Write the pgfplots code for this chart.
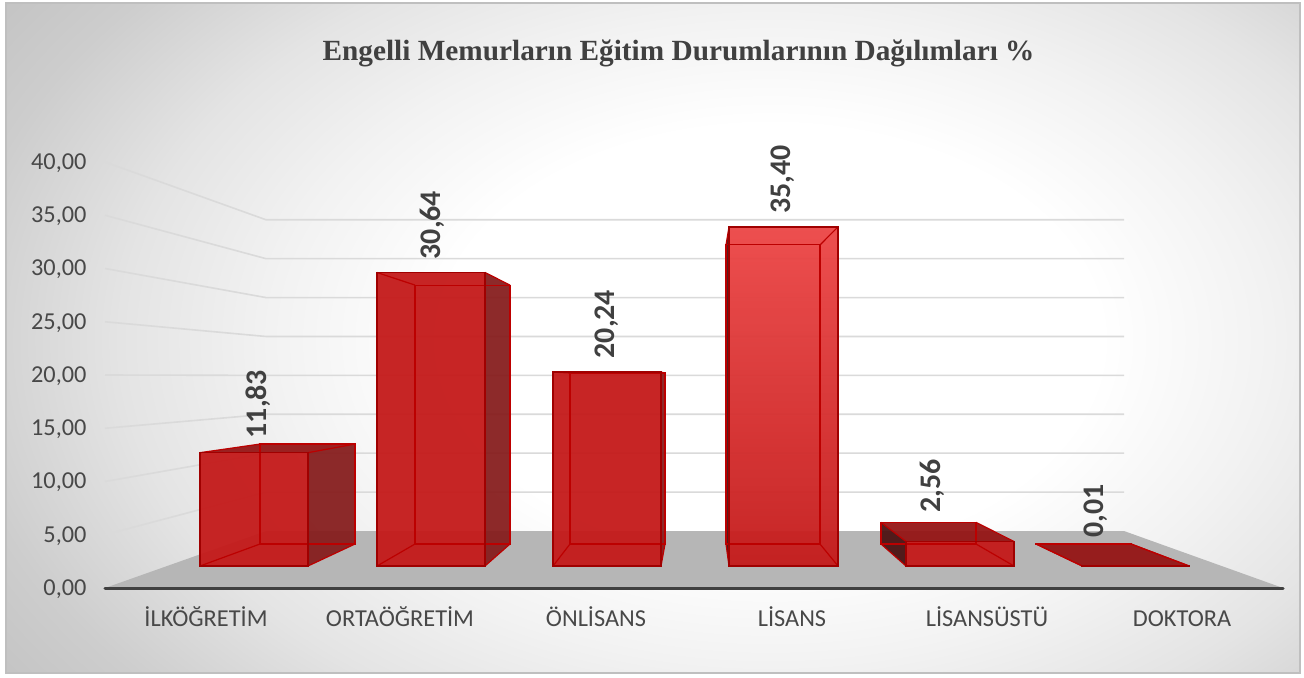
\documentclass[border=0pt]{standalone}
\usepackage{fontspec}
\usepackage{pgfplots}
\pgfplotsset{compat=1.18}
\setmainfont{Carlito}
\newfontfamily\titlefont{Liberation Serif}
\definecolor{txt}{HTML}{404040}
\definecolor{ticktxt}{HTML}{484848}
\definecolor{gridc}{HTML}{DADADA}
\definecolor{floorc}{HTML}{B6B6B6}
\definecolor{frontc}{HTML}{C41A1A}
\definecolor{frontl}{HTML}{EC4646}
\definecolor{edgec}{HTML}{BC0000}
\definecolor{edgeo}{HTML}{A00000}
\definecolor{sidec}{HTML}{851A1A}
\definecolor{topc}{HTML}{941212}
\definecolor{leftc}{HTML}{4A1010}
\definecolor{bga}{HTML}{FFFFFF}
\definecolor{bgb}{HTML}{F2F2F2}
\definecolor{bgc}{HTML}{E4E4E4}
\definecolor{bgd}{HTML}{CDCDCD}
\definecolor{bge}{HTML}{C2C2C2}
\definecolor{bgf}{HTML}{B9B9B9}
\pgfdeclareradialshading{bgshade}{\pgfpointorigin}{color(0bp)=(bga); color(8.25bp)=(bga); color(12.5bp)=(bgb); color(16.25bp)=(bgc); color(20.5bp)=(bgd); color(23.75bp)=(bge); color(27bp)=(bgf); color(50bp)=(bgf)}
% xfl xfr xbl xbr value frontstyle topcolor leftcolor rightcolor
\newcommand\drawbox[9]{%
  \pgfmathsetmacro\yfb{2.066}%
  \pgfmathsetmacro\ybb{4.131}%
  \pgfmathsetmacro\yft{2.066+0.8995*#5}%
  \pgfmathsetmacro\ybt{4.131+0.7934*#5}%
  \addplot[draw=none,fill=#8,fill opacity=0.93] coordinates {(#1,\yfb)(#3,\ybb)(#3,\ybt)(#1,\yft)} -- cycle;
  \addplot[draw=none,fill=#9,fill opacity=0.93] coordinates {(#2,\yfb)(#4,\ybb)(#4,\ybt)(#2,\yft)} -- cycle;
  \addplot[draw=none,fill=#7,fill opacity=0.93] coordinates {(#1,\yft)(#2,\yft)(#4,\ybt)(#3,\ybt)} -- cycle;
  \addplot[draw=none,#6,fill opacity=0.95] coordinates {(#1,\yfb)(#2,\yfb)(#2,\yft)(#1,\yft)} -- cycle;
  \addplot[draw=edgec,line width=1.2bp] coordinates {(#3,\ybb)(#4,\ybb)(#4,\ybt)(#3,\ybt)} -- cycle;
  \addplot[draw=edgec,line width=1.2bp] coordinates {(#1,\yfb)(#3,\ybb)};
  \addplot[draw=edgec,line width=1.2bp] coordinates {(#2,\yfb)(#4,\ybb)};
  \addplot[draw=edgec,line width=1.2bp] coordinates {(#1,\yft)(#3,\ybt)};
  \addplot[draw=edgec,line width=1.2bp] coordinates {(#2,\yft)(#4,\ybt)};
  \addplot[draw=edgeo,line width=1.5bp] coordinates {(#1,\yfb)(#2,\yfb)(#2,\yft)(#1,\yft)} -- cycle;
}
\begin{document}
\begin{tikzpicture}
\path[use as bounding box] (0,0) rectangle (1304bp,-678bp);
\fill[white] (0,0) rectangle (1304bp,-678bp);
\begin{scope}
\clip (6bp,-3bp) rectangle (1300bp,-673bp);
\shade[shading=bgshade] (770bp,-340bp) ellipse (1000bp and 650bp);
\end{scope}
\draw[draw=black!25,line width=1.2bp] (6bp,-3bp) rectangle (1300bp,-673bp);
\begin{axis}[
  at={(105bp,-588bp)},anchor=south west,
  scale only axis,width=1178bp,height=426bp,
  xmin=105,xmax=1283,ymin=0,ymax=40,
  clip=false,
  axis x line*=bottom,axis y line*=left,
  x axis line style={draw=none,-},
  y axis line style={draw=none,-},
  major tick length=0pt,
  xtick={206,400,596,792,987,1182},
  xticklabels={İLKÖĞRETİM,ORTAÖĞRETİM,ÖNLİSANS,LİSANS,LİSANSÜSTÜ,DOKTORA},
  ytick={0,5,...,40},
  /pgf/number format/assume math mode=true,
  /pgf/number format/fixed,/pgf/number format/fixed zerofill,
  /pgf/number format/precision=2,/pgf/number format/use comma,
  tick label style={font=\fontsize{24.4}{28}\selectfont,text=ticktxt},
  xticklabel style={anchor=base,yshift=-38bp},
  yticklabel style={anchor=east,xshift=-15bp,yshift=-1bp},
]
% floor
\addplot[draw=none,fill=floorc] coordinates {(105,0)(1283,0)(1124,5.352)(266,5.352)} -- cycle;
\addplot[draw=txt,line width=3bp,line cap=round] coordinates {(105,0)(1283,0)};
% back wall and side wall gridlines
\addplot[draw=gridc,line width=1.6bp] coordinates {(105,5)(266,9.005)(1124,9.005)};
\addplot[draw=gridc,line width=1.6bp] coordinates {(105,10)(266,12.658)(1124,12.658)};
\addplot[draw=gridc,line width=1.6bp] coordinates {(105,15)(266,16.311)(1124,16.311)};
\addplot[draw=gridc,line width=1.6bp] coordinates {(105,20)(266,19.964)(1124,19.964)};
\addplot[draw=gridc,line width=1.6bp] coordinates {(105,25)(266,23.617)(1124,23.617)};
\addplot[draw=gridc,line width=1.6bp] coordinates {(105,30)(266,27.27)(1124,27.27)};
\addplot[draw=gridc,line width=1.6bp] coordinates {(105,35)(266,30.923)(1124,30.923)};
\addplot[draw=gridc,line width=1.6bp] coordinates {(105,40)(266,34.576)(1124,34.576)};
% bars
\drawbox{200}{308}{260}{355}{11.83}{fill=frontc}{topc}{none}{sidec}
\drawbox{377}{485}{415}{510}{30.64}{fill=frontc}{none}{none}{sidec}
\drawbox{553}{661}{570}{665}{20.24}{fill=frontc}{none}{none}{sidec}
\drawbox{729}{838}{726}{820}{35.40}{top color=frontl,bottom color=frontc}{none}{leftc}{none}
\drawbox{906}{1014}{881}{976}{2.56}{fill=frontc}{topc}{leftc}{none}
\drawbox{1082}{1189}{1036}{1131}{0.01}{fill=frontc}{topc}{none}{none}
% data labels
\begin{scope}[every node/.style={rotate=90,anchor=west,inner sep=0pt,text=txt,font=\fontsize{30}{34}\selectfont\bfseries}]
\node at (axis cs:258,14.05) {11,83};
\node at (axis cs:432,30.85) {30,64};
\node at (axis cs:607,21.55) {20,24};
\node at (axis cs:783,35.15) {35,40};
\node at (axis cs:932,7.1) {2,56};
\node at (axis cs:1096,4.75) {0,01};
\end{scope}
\end{axis}
\node[text=txt,font=\titlefont\bfseries\fontsize{29.4}{34}\selectfont] at (678.5bp,-53.5bp) {Engelli Memurların Eğitim Durumlarının Dağılımları \%};
\end{tikzpicture}
\end{document}
